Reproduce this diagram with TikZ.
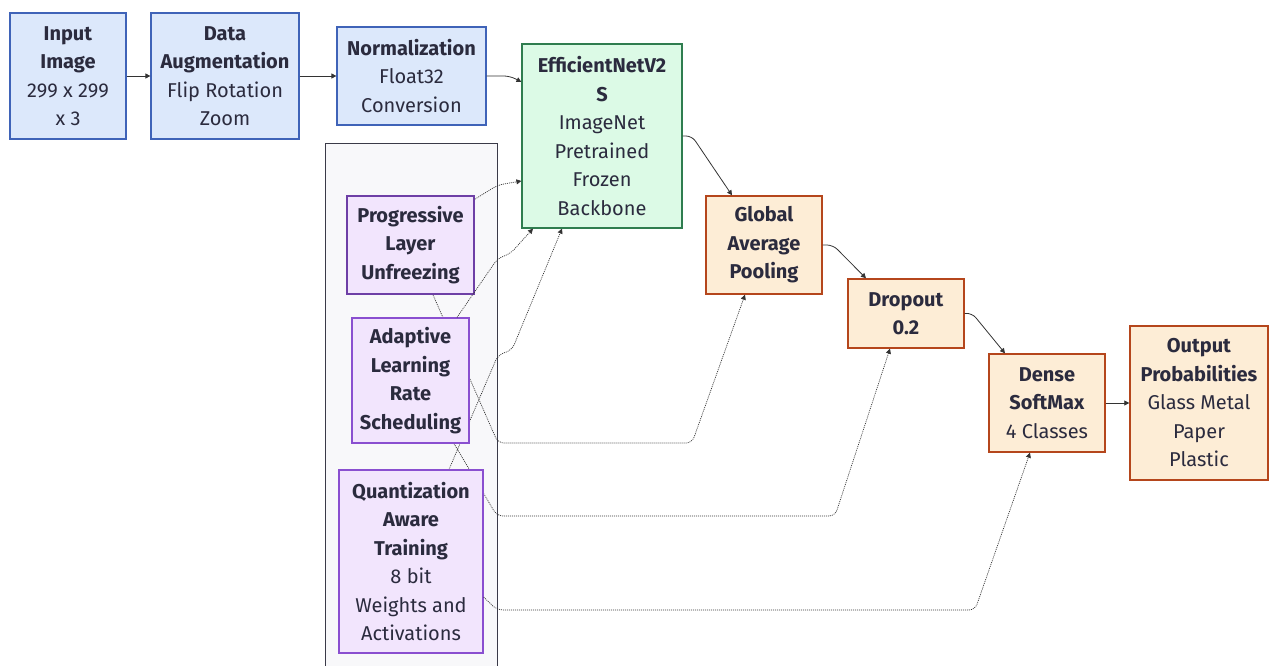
\documentclass[tikz,border=0pt]{standalone}
\usepackage{fontspec}
\setmainfont{Fira Sans}
\usetikzlibrary{arrows.meta,calc}
\pgfdeclarelayer{back}
\pgfdeclarelayer{mid}
\pgfsetlayers{back,mid,main}
\definecolor{txt}{HTML}{2B2B3E}
\definecolor{bfill}{HTML}{DCE8FB}
\definecolor{bdraw}{HTML}{3F63B8}
\definecolor{gfill}{HTML}{DCFAE6}
\definecolor{gdraw}{HTML}{2F7D4F}
\definecolor{ofill}{HTML}{FDEDD6}
\definecolor{odraw}{HTML}{B5461C}
\definecolor{pfill}{HTML}{F2E5FD}
\definecolor{pdraw}{HTML}{8A4FD0}
\definecolor{cfill}{HTML}{F8F8FA}
\definecolor{cdraw}{HTML}{3A3A48}
\definecolor{edge}{HTML}{333333}
\tikzset{
  box/.style={rectangle, draw, line width=1.2pt, inner sep=0pt, align=center,
    text=txt, font=\fontsize{20}{28.5}\selectfont},
  bluebox/.style={box, fill=bfill, draw=bdraw},
  greenbox/.style={box, fill=gfill, draw=gdraw},
  orangebox/.style={box, fill=ofill, draw=odraw, line width=1.4pt},
  purplebox/.style={box, fill=pfill, draw=pdraw},
  flow/.style={draw=edge, line width=0.8pt, rounded corners=6pt, -{Triangle[length=5pt,width=5pt]}},
  dflow/.style={draw=edge, line width=0.7pt, dash pattern=on 1pt off 1pt, rounded corners=6pt, -{Triangle[length=5pt,width=5pt]}},
}
\begin{document}
\begin{tikzpicture}[x=1pt,y=-1pt]
\useasboundingbox (0,0) rectangle (1270,666);
% container
\begin{pgfonlayer}{back}
\node[rectangle, fill=cfill, draw=cdraw, line width=0.8pt, minimum width=172pt, minimum height=530pt, inner sep=0pt] (cont) at (411,408) {};
\end{pgfonlayer}
% nodes
\node[bluebox, minimum width=116pt, minimum height=126pt] (in) at (68,76) {\textbf{Input}\\\textbf{Image}\\299 x 299\\x 3};
\node[bluebox, minimum width=148pt, minimum height=126pt] (aug) at (225,76) {\textbf{Data}\\\textbf{Augmentation}\\Flip Rotation\\Zoom};
\node[bluebox, minimum width=149pt, minimum height=98pt] (norm) at (411.5,76) {\textbf{Normalization}\\Float32\\Conversion};
\node[greenbox, minimum width=160pt, minimum height=184pt] (eff) at (602,136) {\textbf{EfficientNetV2}\\\textbf{S}\\ImageNet\\Pretrained\\Frozen\\Backbone};
\node[orangebox, minimum width=116pt, minimum height=98pt] (gap) at (764,245) {\textbf{Global}\\\textbf{Average}\\\textbf{Pooling}};
\node[orangebox, minimum width=116pt, minimum height=69pt] (drop) at (906,313.5) {\textbf{Dropout}\\\textbf{0.2}};
\node[orangebox, minimum width=116pt, minimum height=98pt] (dense) at (1047,403) {\textbf{Dense}\\\textbf{SoftMax}\\4 Classes};
\node[orangebox, minimum width=138pt, minimum height=154pt] (out) at (1199,403) {\textbf{Output}\\\textbf{Probabilities}\\Glass Metal\\Paper\\Plastic};
\node[purplebox, draw=pdraw!80!black, line width=1.6pt, minimum width=127pt, minimum height=98pt] (prog) at (410.5,245) {\textbf{Progressive}\\\textbf{Layer}\\\textbf{Unfreezing}};
\node[purplebox, minimum width=117pt, minimum height=125pt] (adapt) at (410.5,380.5) {\textbf{Adaptive}\\\textbf{Learning}\\\textbf{Rate}\\\textbf{Scheduling}};
\node[purplebox, minimum width=144pt, minimum height=183pt] (quant) at (411,561.5) {\textbf{Quantization}\\\textbf{Aware}\\\textbf{Training}\\8 bit\\Weights and\\Activations};
% dotted edges passing behind the purple boxes
\begin{pgfonlayer}{mid}
\draw[dflow] ([xshift=22.5pt]prog.south) -- (498,443) -- (692,443) -- ([xshift=-19pt]gap.south);
\draw[dflow] ([xshift=43.5pt]adapt.south) -- (497,516) -- (835,516) -- ([xshift=-16pt]drop.south);
\draw[dflow] ([xshift=38pt]quant.north) -- (498,355) -- (512,350) -- ([xshift=-40pt]eff.south);
\end{pgfonlayer}
% other dotted edges
\draw[dflow] ([yshift=-4pt]prog.north east) -- (498,185) -- ([yshift=-45pt]eff.west);
\draw[dflow] ([xshift=46.5pt]adapt.north) -- (498,258) -- (510,254) -- ([xshift=-69pt]eff.south);
\draw[dflow] ([yshift=-35.5pt]quant.east) -- (497,610) -- (975,610) -- ([xshift=-17pt]dense.south);
% solid edges
\draw[flow] (in.east) -- (aug.west);
\draw[flow] (aug.east) -- (norm.west);
\draw[flow] (norm.east) -- (510,76) -- ([yshift=54pt]eff.west);
\draw[flow] (eff.east) -- (692,136) -- ([xshift=-32pt]gap.north);
\draw[flow] (gap.east) -- (833,245) -- ([xshift=-40pt]drop.north);
\draw[flow] (drop.east) -- (972,313) -- ([xshift=-42pt]dense.north);
\draw[flow] (dense.east) -- (out.west);
\end{tikzpicture}
\end{document}
